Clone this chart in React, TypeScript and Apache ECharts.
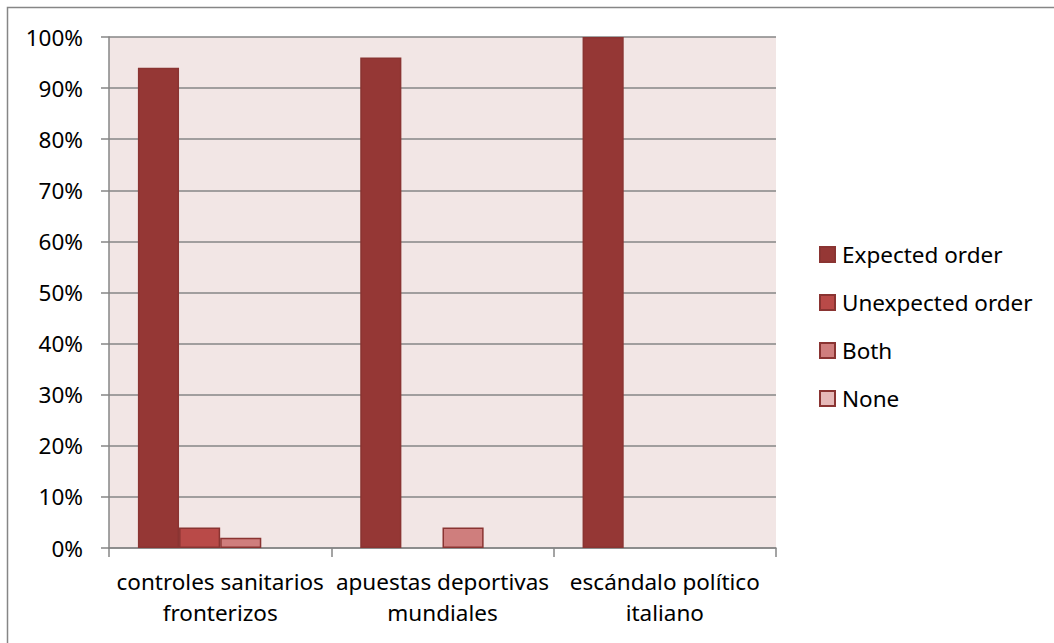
import React, { useEffect, useRef } from "react";
import * as echarts from "echarts";

const categories = ["controles sanitarios\nfronterizos", "apuestas deportivas\nmundiales", "escándalo político\nitaliano"];
const seriesNames = ["Expected order", "Unexpected order", "Both", "None"];
const expectedOrder = [0.94, 0.96, 1.0];
const unexpectedOrder = [0.04, 0, 0];
const both = [0.02, 0.04, 0];
const none = [0, 0, 0];
const yTicks = { min: 0, max: 1, interval: 0.1 };

const colors = ["#953735", "#B94A48", "#CF7E7D", "#E6B9B8"];
const borders = ["#8A3432", "#8A3432", "#8A3432", "#8A3432"];
const FONT = "Noto Sans";
const FS = 22.5;

export default function App() {
  const ref = useRef<HTMLDivElement>(null);
  useEffect(() => {
    if (!ref.current) return;
    const chart = echarts.init(ref.current, undefined, { renderer: "svg" });
    const values = [expectedOrder, unexpectedOrder, both, none];
    chart.setOption({
      animation: false,
      textStyle: { fontFamily: FONT },
      grid: {
        left: 109,
        right: 278,
        top: 37,
        bottom: 95,
        show: true,
        backgroundColor: "#F2E6E5",
        borderWidth: 0,
      },
      graphic: [
        {
          type: "rect",
          shape: { x: 7.5, y: 7.5, width: 1060, height: 650 },
          style: { fill: "none", stroke: "#868686", lineWidth: 1.5 },
          silent: true,
        },
      ],
      legend: {
        orient: "vertical",
        left: 814,
        top: 238,
        itemWidth: 15,
        itemHeight: 15,
        itemGap: 25,
        icon: "rect",
        data: seriesNames,
        textStyle: { fontFamily: FONT, fontSize: FS, color: "#000", lineHeight: 23, padding: [0, 0, 0, 2] },
      },
      xAxis: {
        type: "category",
        data: categories,
        axisLine: { lineStyle: { color: "#868686", width: 1.5 } },
        axisTick: { show: true, length: 9, lineStyle: { color: "#868686", width: 1.5 } },
        axisLabel: {
          color: "#000",
          fontFamily: FONT,
          fontSize: FS,
          lineHeight: 31,
          margin: 18,
          interval: 0,
        },
      },
      yAxis: {
        type: "value",
        min: yTicks.min,
        max: yTicks.max,
        interval: yTicks.interval,
        axisLine: { show: true, lineStyle: { color: "#868686", width: 1.5 } },
        axisTick: { show: true, length: 8, lineStyle: { color: "#868686", width: 1.5 } },
        splitLine: { show: true, lineStyle: { color: "#868686", width: 1.5 } },
        axisLabel: {
          color: "#000",
          fontFamily: FONT,
          fontSize: FS,
          margin: 26,
          formatter: (v: number) => Math.round(v * 100) + "%",
        },
      },
      series: seriesNames.map((name, i) => ({
        name,
        type: "bar",
        barGap: "0%",
        barCategoryGap: "26%",
        data: values[i].map((v) => (v === 0 ? null : v)),
        itemStyle: { color: colors[i], borderColor: borders[i], borderWidth: 1.5 },
      })),
    });
    return () => chart.dispose();
  }, []);
  return <div ref={ref} style={{ position: "absolute", left: 0, top: 0, width: 1054, height: 643 }} />;
}
